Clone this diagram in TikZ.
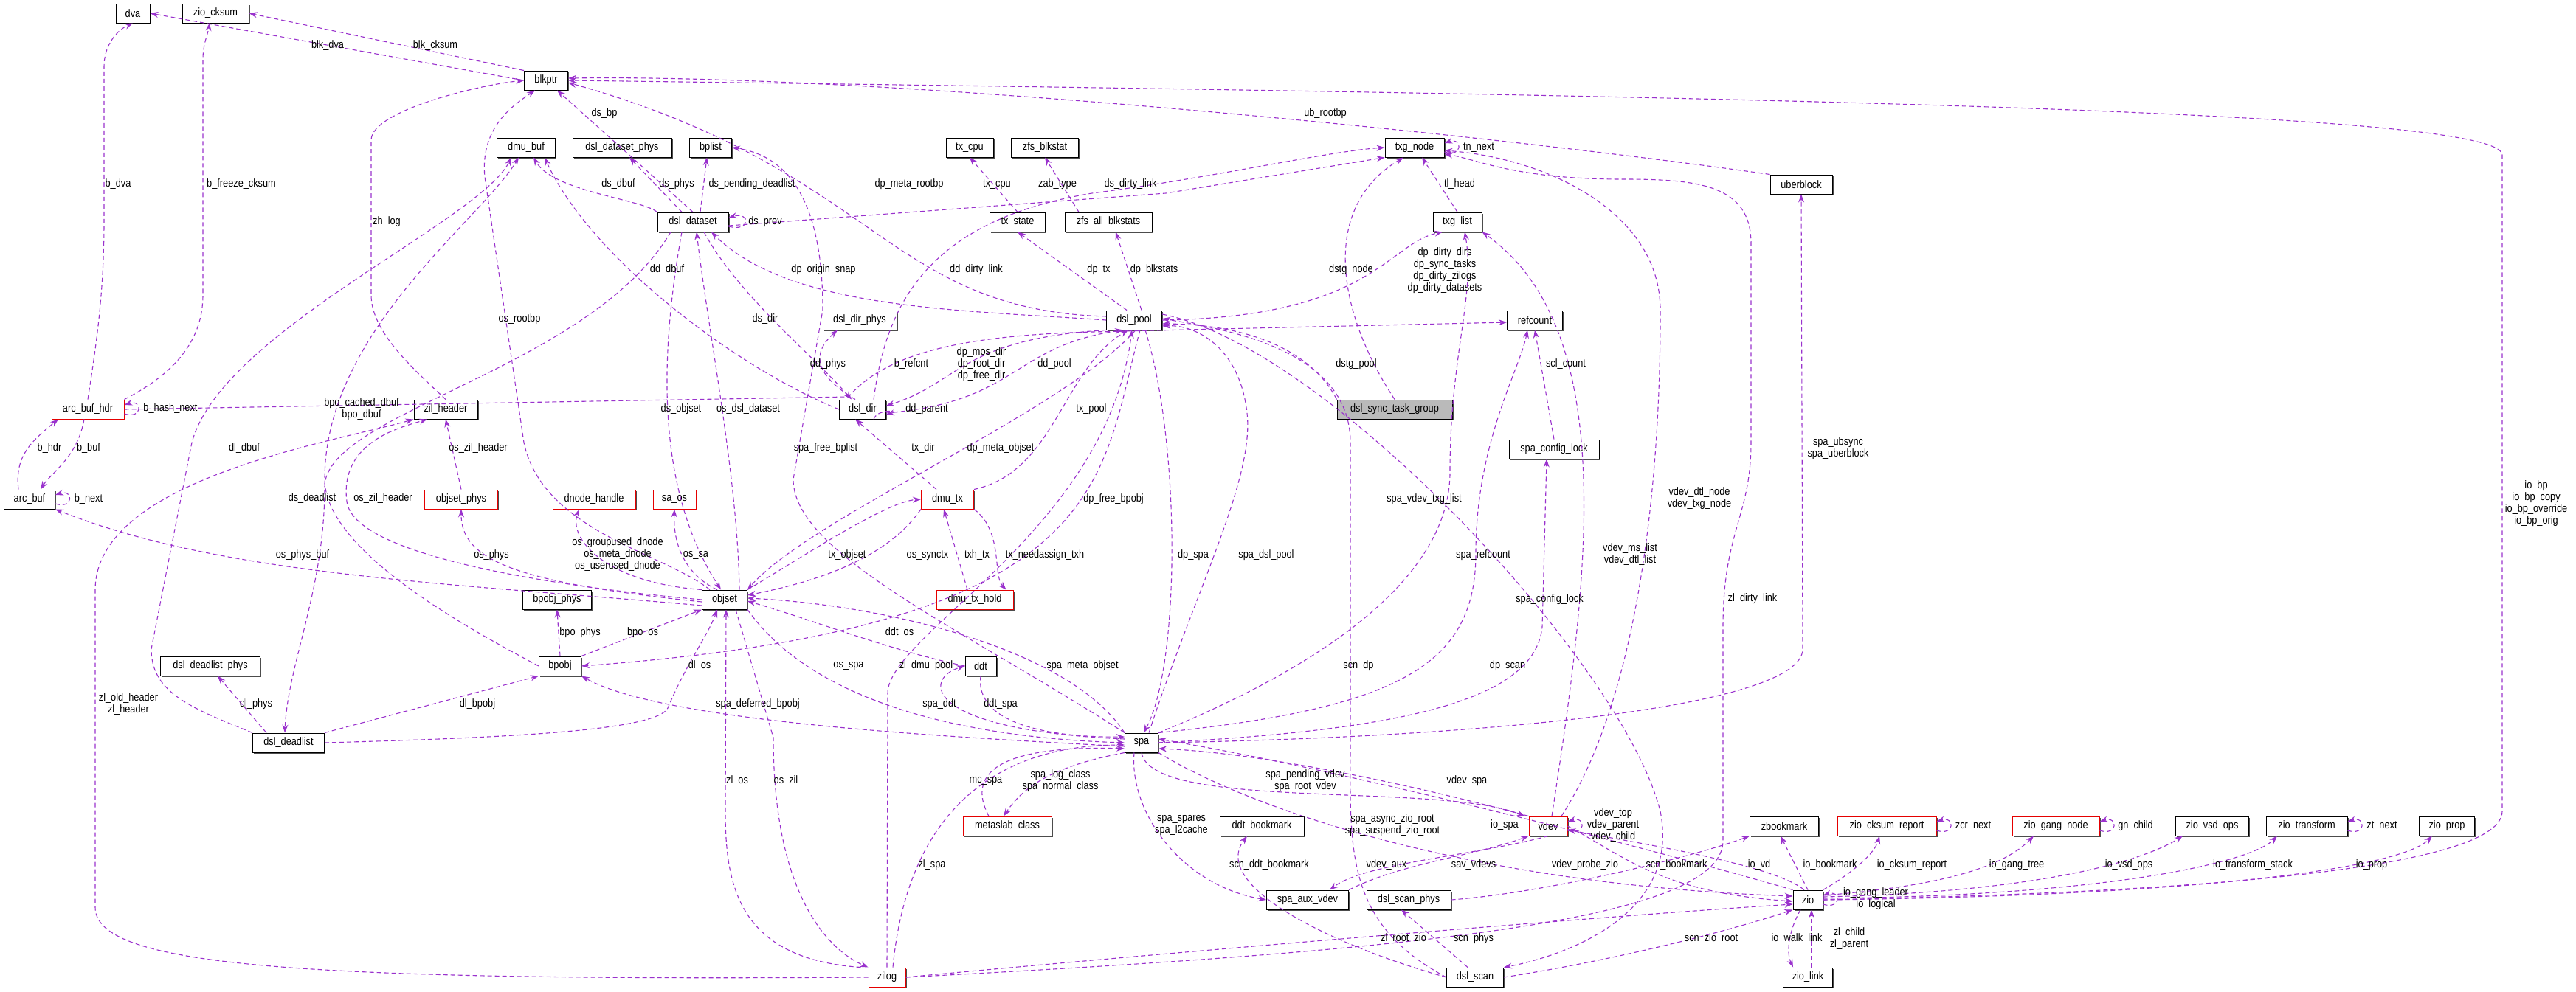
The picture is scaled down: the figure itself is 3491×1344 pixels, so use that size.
\documentclass[tikz,border=0pt]{standalone}
\usepackage{fontspec}
\setmainfont{Liberation Sans}[FakeStretch=0.85]
\usetikzlibrary{arrows.meta,shadows}
\definecolor{ec}{HTML}{9A32CD}
\newcommand\nf{\fontsize{15}{16}\selectfont}
\newcommand\lbl[3]{\node[lab] (#1) at (#2) {#3};}
\begin{document}
\begin{tikzpicture}[x=1pt,y=-1pt,
  box/.style={draw, fill=white, minimum height=26, inner xsep=2pt, inner ysep=0pt, font=\nf, line width=1pt,
    drop shadow={shadow xshift=1.5pt,shadow yshift=-1.5pt,fill=black!70,opacity=1}},
  red/.style={box, draw=red!90!black},
  lab/.style={font=\nf, align=center, inner sep=0pt},
  e/.style={draw=ec, line width=1.1pt, dash pattern=on 6pt off 4pt, -{Stealth[length=11pt,width=8pt,fill=ec]}},
  ]
\useasboundingbox (0,0) rectangle (3491,1344);
% nodes
\node[box,minimum width=46] (dva) at (180,18) {dva};
\node[box,minimum width=90] (zio_cksum) at (292,18) {zio\_cksum};
\node[box,minimum width=59] (blkptr) at (740,109) {blkptr};
\node[box,minimum width=79] (dmu_buf) at (713,200) {dmu\_buf};
\node[box,minimum width=134] (dsl_dataset_phys) at (843,200) {dsl\_dataset\_phys};
\node[box,minimum width=57] (bplist) at (963,200) {bplist};
\node[box,minimum width=64] (tx_cpu) at (1314,200) {tx\_cpu};
\node[box,minimum width=91] (zfs_blkstat) at (1416,200) {zfs\_blkstat};
\node[box,minimum width=80] (txg_node) at (1917,200) {txg\_node};
\node[box,minimum width=84] (uberblock) at (2441,250) {uberblock};
\node[box,minimum width=96] (dsl_dataset) at (939,301) {dsl\_dataset};
\node[box,minimum width=75] (tx_state) at (1379,301) {tx\_state};
\node[box,minimum width=118] (zfs_all_blkstats) at (1502,301) {zfs\_all\_blkstats};
\node[box,minimum width=66] (txg_list) at (1975,301) {txg\_list};
\node[box,minimum width=100] (dsl_dir_phys) at (1165,434) {dsl\_dir\_phys};
\node[box,minimum width=75] (dsl_pool) at (1537,434) {dsl\_pool};
\node[box,minimum width=75] (refcount) at (2080,434) {refcount};
\node[red,minimum width=98] (arc_buf_hdr) at (119,555) {arc\_buf\_hdr};
\node[box,minimum width=86] (zil_header) at (604,555) {zil\_header};
\node[box,minimum width=63] (dsl_dir) at (1169,555) {dsl\_dir};
\node[box,minimum width=156,fill=black!27] (dstg) at (1890,555) {dsl\_sync\_task\_group};
\node[box,minimum width=122] (spa_config_lock) at (2106,609) {spa\_config\_lock};
\node[box,minimum width=69] (arc_buf) at (40,677) {arc\_buf};
\node[red,minimum width=99] (objset_phys) at (625,677) {objset\_phys};
\node[red,minimum width=112] (dnode_handle) at (805,677) {dnode\_handle};
\node[red,minimum width=58] (sa_os) at (914,677) {sa\_os};
\node[red,minimum width=71] (dmu_tx) at (1284,677) {dmu\_tx};
\node[box,minimum width=93] (bpobj_phys) at (755,813) {bpobj\_phys};
\node[box,minimum width=61] (objset) at (982,813) {objset};
\node[red,minimum width=104] (dmu_tx_hold) at (1321,813) {dmu\_tx\_hold};
\node[box,minimum width=135] (dsl_deadlist_phys) at (285,903) {dsl\_deadlist\_phys};
\node[box,minimum width=57] (bpobj) at (759,903) {bpobj};
\node[box,minimum width=42] (ddt) at (1329,903) {ddt};
\node[box,minimum width=97] (dsl_deadlist) at (391,1007) {dsl\_deadlist};
\node[box,minimum width=45] (spa) at (1547,1007) {spa};
\node[red,minimum width=120] (metaslab_class) at (1365,1120) {metaslab\_class};
\node[box,minimum width=114] (ddt_bookmark) at (1710,1120) {ddt\_bookmark};
\node[red,minimum width=52] (vdev) at (2098,1120) {vdev};
\node[box,minimum width=93] (zbookmark) at (2418,1120) {zbookmark};
\node[red,minimum width=134] (zio_cksum_report) at (2557,1120) {zio\_cksum\_report};
\node[red,minimum width=118] (zio_gang_node) at (2786,1120) {zio\_gang\_node};
\node[box,minimum width=99] (zio_vsd_ops) at (2998,1120) {zio\_vsd\_ops};
\node[box,minimum width=110] (zio_transform) at (3126,1120) {zio\_transform};
\node[box,minimum width=75] (zio_prop) at (3316,1120) {zio\_prop};
\node[box,minimum width=111] (spa_aux_vdev) at (1772,1220) {spa\_aux\_vdev};
\node[box,minimum width=114] (dsl_scan_phys) at (1909,1220) {dsl\_scan\_phys};
\node[box,minimum width=40] (zio) at (2450,1220) {zio};
\node[red,minimum width=50] (zilog) at (1202,1325) {zilog};
\node[box,minimum width=77] (dsl_scan) at (1999,1325) {dsl\_scan};
\node[box,minimum width=67] (zio_link) at (2450,1325) {zio\_link};

% edges
\path[e] (blkptr.west) -- (dva.east);
\path[e] (blkptr.north west) -- (zio_cksum.east);
\path[e] (arc_buf_hdr.north) .. controls (130,470) and (141,400) .. (141,300) -- (141,90) .. controls (141,60) and (160,40) .. (dva.south);
\path[e] (arc_buf_hdr.north east) .. controls (250,500) and (275,450) .. (275,400) -- (275,80) .. controls (275,60) and (282,45) .. (284,31);
\path[e] (dsl_dataset.north) -- ([xshift=15]blkptr.south);
\path[e] (dsl_dataset.north west) .. controls (870,270) and (750,260) .. ([xshift=10]dmu_buf.south);
\path[e] ([xshift=-15]dsl_dataset.north) -- ([xshift=10]dsl_dataset_phys.south);
\path[e] ([xshift=10]dsl_dataset.north) -- ([xshift=-5]bplist.south);
\path[e] ([yshift=-6]dsl_dataset.east) .. controls +(30,8) and +(30,-8) .. ([yshift=6]dsl_dataset.east);
\path[e] (zil_header.north) .. controls (560,500) and (503,450) .. (503,400) -- (503,190) .. controls (503,150) and (650,115) .. (blkptr.west);
\path[e] ([yshift=-6]arc_buf_hdr.east) .. controls +(25,8) and +(25,-8) .. ([yshift=6]arc_buf_hdr.east);
\path[e] ([xshift=-15]arc_buf.north) .. controls (20,620) and (40,600) .. ([xshift=-40]arc_buf_hdr.south);
\path[e] ([xshift=-5]arc_buf_hdr.south) .. controls (105,620) and (70,640) .. ([xshift=15]arc_buf.north);
\path[e] ([yshift=-6]arc_buf.east) .. controls +(25,8) and +(25,-8) .. ([yshift=6]arc_buf.east);
\path[e] (dsl_deadlist.north west) .. controls (260,960) and (205,940) .. (205,880) -- (260,600) .. controls (300,450) and (650,300) .. ([xshift=-20]dmu_buf.south);
\path[e] (bpobj.west) .. controls (650,860) and (440,750) .. (440,650) .. controls (440,450) and (650,300) .. ([xshift=-10]dmu_buf.south);
\path[e] (objset_phys.north) -- ([xshift=0]zil_header.south);
\path[e] (objset.west) .. controls (800,800) and (480,760) .. (470,680) .. controls (460,600) and (540,580) .. ([xshift=-25]zil_header.south);
\path[e] ([xshift=-20]objset.north) .. controls (900,750) and (735,720) .. (710,600) -- (657,240) .. controls (650,170) and (700,140) .. ([xshift=-15]blkptr.south);
\path[e] (dsl_dir.west) .. controls (1000,500) and (800,350) .. ([xshift=25]dmu_buf.south);
\path[e] (dsl_pool.west) .. controls (1300,420) and (1070,420) .. ([xshift=25]dsl_dataset.south);
\path[e] ([xshift=15]dsl_dataset.south) .. controls (1000,400) and (1100,480) .. ([xshift=-15]dsl_dir.north);
\path[e] ([xshift=-10]dsl_dir.north) .. controls (1090,500) and (1110,470) .. ([xshift=-30]dsl_dir_phys.south);
\path[e] ([xshift=-15]dsl_dataset.south) .. controls (900,450) and (880,650) .. ([xshift=-5]objset.north);
\path[e] ([xshift=20]objset.north) .. controls (1000,650) and (960,450) .. ([xshift=5]dsl_dataset.south);
\path[e] (spa.north west) .. controls (1300,850) and (1075,750) .. (1075,650) -- (1115,420) .. controls (1115,260) and (1060,210) .. (bplist.east);
\path[e] ([xshift=-30]dsl_dataset.south) .. controls (800,500) and (440,560) .. (440,660) .. controls (440,800) and (390,900) .. ([xshift=-5]dsl_deadlist.north);
\path[e] ([yshift=-5]dsl_dataset.east) -- (1580,262) -- (txg_node.south west);
\path[e] ([yshift=5]dsl_pool.west) .. controls (1200,420) and (1190,230) .. ([yshift=-3]blkptr.east);
\path[e] (tx_state.north) -- (tx_cpu.south);
\path[e] ([xshift=-40]zfs_all_blkstats.north) -- (zfs_blkstat.south);
\path[e] (txg_list.north) -- ([xshift=10]txg_node.south);
\path[e] ([yshift=-6]txg_node.east) .. controls +(25,8) and +(25,-8) .. ([yshift=6]txg_node.east);
\path[e] (uberblock.north west) .. controls (2000,180) and (1200,100) .. ([yshift=3]blkptr.east);
\path[e] ([xshift=15]dsl_dir.north) .. controls (1200,420) and (1250,300) .. (1480,262) .. controls (1650,240) and (1800,205) .. (txg_node.west);
\path[e] ([xshift=-10]dsl_pool.north) -- (tx_state.south);
\path[e] ([xshift=10]dsl_pool.north) -- ([xshift=10]zfs_all_blkstats.south);
\path[e] (dstg.north) .. controls (1810,420) and (1790,280) .. ([xshift=-15]txg_node.south);
\path[e] (dsl_pool.east) .. controls (1860,430) and (1880,330) .. ([xshift=-20]txg_list.south);
\path[e] (arc_buf_hdr.east) -- (1150,538) .. controls (1200,480) and (1300,455) .. (1480,450) -- ([yshift=-3]refcount.west);
\path[e] (dsl_pool.south west) .. controls (1300,460) and (1300,520) .. ([yshift=5]dsl_dir.east);
\path[e] ([yshift=-5]dsl_dir.east) .. controls (1380,545) and (1370,470) .. ([xshift=-15]dsl_pool.south);
\path[e] ([xshift=15]dsl_dir.south) .. controls +(5,-15) and +(20,-5) .. ([yshift=-7]dsl_dir.east);
\path[e] (dstg.north west) .. controls (1780,480) and (1700,440) .. ([yshift=-5]dsl_pool.east);
\path[e] (spa_config_lock.north) -- (refcount.south);
\path[e] (dmu_tx.north east) .. controls (1430,640) and (1440,500) .. ([xshift=-8]dsl_pool.south);
\path[e] ([xshift=-15]dmu_tx.north) -- ([xshift=-10]dsl_dir.south);
\path[e] ([xshift=2]dsl_pool.south) .. controls (1440,560) and (1100,700) .. (objset.north east);
\path[e] (spa.north east) .. controls (1800,900) and (1965,780) .. (1965,640) .. controls (1965,480) and (2000,400) .. ([xshift=10]txg_list.south);
\path[e] ([xshift=8]dsl_pool.south) .. controls (1490,650) and (1510,850) .. (bpobj.east);
\path[e] ([xshift=5]vdev.north) .. controls (2150,800) and (2200,450) .. (txg_list.south east);
\path[e] ([xshift=18]vdev.north) .. controls (2250,900) and (2250,500) .. (2250,420) .. controls (2250,290) and (2100,215) .. ([yshift=-4]txg_node.east);
\path[e] (zilog.east) .. controls (1900,1290) and (2335,1250) .. (2335,1140) -- (2335,850) .. controls (2335,720) and (2373,700) .. (2373,600) -- (2373,330) .. controls (2373,250) and (2300,243) .. (2200,243) .. controls (2050,243) and (2000,215) .. ([yshift=-9]txg_node.east);
\path[e] (spa.east) .. controls (2000,1000) and (2443,960) .. (2443,880) -- (uberblock.south);
\path[e] (zio.east) .. controls (2700,1215) and (3391,1200) .. (3391,1100) -- (3391,210) .. controls (3391,150) and (2400,130) .. (blkptr.east);
\path[e] (spa.north east) .. controls (1900,960) and (2000,900) .. (2000,750) .. controls (2000,600) and (2060,500) .. ([xshift=-10]refcount.south);
\path[e] (spa.east) .. controls (1900,990) and (2080,950) .. (2090,850) -- ([xshift=-10]spa_config_lock.south);
\path[e] ([xshift=10]spa.north) .. controls (1620,800) and (1700,650) .. (1690,560) .. controls (1680,470) and (1620,440) .. ([yshift=-8]dsl_pool.east);
\path[e] ([xshift=15]dsl_pool.south) .. controls (1600,600) and (1600,900) .. ([xshift=3]spa.north);
\path[e] (dmu_tx.south west) .. controls (1200,760) and (1100,790) .. ([yshift=6]objset.east);
\path[e] (objset.north east) .. controls (1080,760) and (1200,680) .. (dmu_tx.west);
\path[e] ([xshift=-10]dmu_tx_hold.north) -- ([xshift=-5]dmu_tx.south);
\path[e] (dmu_tx.south east) .. controls (1360,720) and (1345,780) .. ([xshift=-10]dmu_tx_hold.north east);
\path[e] ([yshift=-8]objset.west) .. controls (600,790) and (300,780) .. (arc_buf.south east);
\path[e] ([yshift=-3]objset.west) .. controls (700,790) and (625,760) .. (objset_phys.south);
\path[e] (objset.north west) .. controls (820,790) and (770,730) .. ([xshift=-20]dnode_handle.south);
\path[e] ([xshift=-10]objset.north) .. controls (930,780) and (912,740) .. (sa_os.south);
\path[e] (bpobj.north) -- (bpobj_phys.south);
\path[e] (bpobj.north east) -- (objset.south west);
\path[e] ([xshift=-30]dsl_deadlist.north) -- ([xshift=10]dsl_deadlist_phys.south);
\path[e] (dsl_deadlist.north east) -- (bpobj.south west);
\path[e] (dsl_deadlist.east) .. controls (700,1000) and (890,990) .. (905,960) .. controls (930,900) and (960,860) .. ([xshift=-10]objset.south);
\path[e] ([yshift=-5]spa.west) .. controls (1300,1000) and (900,980) .. (bpobj.south east);
\path[e] (zilog.west) .. controls (400,1330) and (129,1310) .. (129,1230) -- (129,800) .. controls (129,650) and (450,600) .. (zil_header.south west);
\path[e] ([xshift=-10]zilog.north west) .. controls (1000,1300) and (983,1200) .. (983,1100) -- ([xshift=2]objset.south);
\path[e] ([xshift=15]objset.south) -- (1048,1000) .. controls (1048,1250) and (1150,1300) .. (zilog.north west);
\path[e] (objset.south east) .. controls (1100,950) and (1300,1000) .. (spa.west);
\path[e] (ddt.west) .. controls (1200,880) and (1100,840) .. ([yshift=-2]objset.east);
\path[e] (zilog.north) -- (1203,940) .. controls (1203,860) and (1500,720) .. ([xshift=-3]dsl_pool.south);
\path[e] (spa.north west) .. controls (1450,880) and (1200,820) .. ([yshift=2]objset.east);
\path[e] ([yshift=5]spa.west) .. controls (1250,990) and (1250,920) .. (ddt.west);
\path[e] (ddt.south) .. controls (1320,990) and (1450,1000) .. ([yshift=8]spa.west);
\path[e] (dsl_scan.west) .. controls (1820,1250) and (1830,1150) .. (1830,1000) -- (1830,600) .. controls (1830,470) and (1650,445) .. ([yshift=2]dsl_pool.east);
\path[e] ([yshift=8]dsl_pool.east) .. controls (1800,470) and (2200,900) .. (2250,1100) .. controls (2280,1250) and (2100,1300) .. (dsl_scan.north east);
\path[e] ([xshift=-25]metaslab_class.north) .. controls (1310,1050) and (1350,1010) .. ([yshift=-8]spa.west);
\path[e] (spa.south west) .. controls (1420,1040) and (1385,1070) .. ([xshift=-5]metaslab_class.north);
\path[e] (spa.south) .. controls (1560,1100) and (1950,1060) .. ([xshift=-5]vdev.north west);
\path[e] (vdev.north west) .. controls (1900,1060) and (1700,1020) .. ([yshift=-8]spa.east);
\path[e] ([xshift=-10]spa.south) .. controls (1530,1100) and (1600,1200) .. (spa_aux_vdev.west);
\path[e] (spa.south east) .. controls (1700,1100) and (2000,1200) .. ([yshift=5]zio.west);
\path[e] (zio.north west) .. controls (2200,1140) and (1800,1040) .. ([yshift=5]spa.east);
\path[e] ([yshift=-6]vdev.east) .. controls +(25,8) and +(25,-8) .. ([yshift=6]vdev.east);
\path[e] ([xshift=8]zilog.north) .. controls (1230,1100) and (1350,1010) .. ([yshift=-3]spa.west);
\path[e] (dsl_scan.west) .. controls (1800,1280) and (1640,1200) .. ([xshift=-20]ddt_bookmark.south);
\path[e] (spa_aux_vdev.north east) .. controls (1900,1170) and (2000,1160) .. (vdev.south west);
\path[e] (vdev.south) .. controls (2000,1160) and (1850,1170) .. ([xshift=30]spa_aux_vdev.north);
\path[e] (vdev.east) .. controls (2200,1160) and (2250,1210) .. ([yshift=-2]zio.west);
\path[e] (dsl_scan_phys.east) .. controls (2100,1210) and (2300,1160) .. (zbookmark.south west);
\path[e] ([xshift=-5]zio.north) .. controls (2400,1170) and (2200,1140) .. ([yshift=-5]vdev.east);
\path[e] (zio.north) -- ([xshift=-5]zbookmark.south);
\path[e] (zio.north east) .. controls (2500,1190) and (2540,1160) .. ([xshift=-10]zio_cksum_report.south);
\path[e] ([yshift=-6]zio_cksum_report.east) .. controls +(25,8) and +(25,-8) .. ([yshift=6]zio_cksum_report.east);
\path[e] ([yshift=6]zio.east) .. controls (2650,1200) and (2720,1170) .. ([xshift=-30]zio_gang_node.south);
\path[e] ([yshift=-6]zio_gang_node.east) .. controls +(25,8) and +(25,-8) .. ([yshift=6]zio_gang_node.east);
\path[e] ([yshift=4]zio.east) .. controls (2750,1210) and (2900,1170) .. ([xshift=-40]zio_vsd_ops.south);
\path[e] ([yshift=2]zio.east) .. controls (2850,1215) and (3050,1170) .. ([xshift=-40]zio_transform.south);
\path[e] ([yshift=-6]zio_transform.east) .. controls +(25,8) and +(25,-8) .. ([yshift=6]zio_transform.east);
\path[e] (zio.east) .. controls (2950,1215) and (3250,1180) .. ([xshift=-20]zio_prop.south);
\path[e] ([yshift=-6]zio.east) .. controls +(25,8) and +(25,-8) .. ([yshift=6]zio.east);
\path[e] (zilog.east) .. controls (1600,1290) and (2200,1240) .. ([yshift=-6]zio.west);
\path[e] ([xshift=-10]dsl_scan.north) -- ([xshift=-10]dsl_scan_phys.south);
\path[e] (dsl_scan.east) .. controls (2200,1300) and (2350,1260) .. (zio.south west);
\path[e] ([xshift=-10]zio.south) .. controls (2425,1260) and (2420,1290) .. ([xshift=-20]zio_link.north);
\path[e] ([xshift=5]zio_link.north) -- ([xshift=5]zio.south);

% labels
\lbl{l1}{444,62}{blk\_dva}
\lbl{l2}{590,62}{blk\_cksum}
\lbl{l3}{160,250}{b\_dva}
\lbl{l4}{327,250}{b\_freeze\_cksum}
\lbl{l5}{819,154}{ds\_bp}
\lbl{l6}{838,250}{ds\_dbuf}
\lbl{l7}{917,250}{ds\_phys}
\lbl{l8}{1019,250}{ds\_pending\_deadlist}
\lbl{l9}{1037,301}{ds\_prev}
\lbl{l10}{524,301}{zh\_log}
\lbl{l11}{231,554}{b\_hash\_next}
\lbl{l12}{67,608}{b\_hdr}
\lbl{l13}{120,608}{b\_buf}
\lbl{l14}{120,677}{b\_next}
\lbl{l15}{331,608}{dl\_dbuf}
\lbl{l16}{490,555}{bpo\_cached\_dbuf\\bpo\_dbuf}
\lbl{l17}{648,608}{os\_zil\_header}
\lbl{l17b}{519,676}{os\_zil\_header}
\lbl{l18}{704,433}{os\_rootbp}
\lbl{l19}{904,366}{dd\_dbuf}
\lbl{l20}{1116,366}{dp\_origin\_snap}
\lbl{l21}{1037,433}{ds\_dir}
\lbl{l22}{1122,494}{dd\_phys}
\lbl{l23}{1014,555}{os\_dsl\_dataset}
\lbl{l23b}{923,555}{ds\_objset}
\lbl{l24}{1119,608}{spa\_free\_bplist}
\lbl{l25}{423,676}{ds\_deadlist}
\lbl{l26}{1532,250}{ds\_dirty\_link}
\lbl{l27}{1232,250}{dp\_meta\_rootbp}
\lbl{l28}{1351,250}{tx\_cpu}
\lbl{l29}{1433,250}{zab\_type}
\lbl{l30}{1978,250}{tl\_head}
\lbl{l31}{2004,200}{tn\_next}
\lbl{l32}{1796,154}{ub\_rootbp}
\lbl{l33}{1323,366}{dd\_dirty\_link}
\lbl{l34}{1489,366}{dp\_tx}
\lbl{l35}{1564,366}{dp\_blkstats}
\lbl{l36}{1831,366}{dstg\_node}
\lbl{l37}{1958,367}{dp\_dirty\_dirs\\dp\_sync\_tasks\\dp\_dirty\_zilogs\\dp\_dirty\_datasets}
\lbl{l38}{1235,494}{b\_refcnt}
\lbl{l39}{1330,494}{dp\_mos\_dir\\dp\_root\_dir\\dp\_free\_dir}
\lbl{l40}{1429,494}{dd\_pool}
\lbl{l41}{1256,555}{dd\_parent}
\lbl{l42}{1838,494}{dstg\_pool}
\lbl{l43}{2122,494}{scl\_count}
\lbl{l44}{1479,555}{tx\_pool}
\lbl{l45}{1251,608}{tx\_dir}
\lbl{l46}{1356,608}{dp\_meta\_objset}
\lbl{l47}{1930,677}{spa\_vdev\_txg\_list}
\lbl{l48}{1509,677}{dp\_free\_bpobj}
\lbl{l49}{2209,752}{vdev\_ms\_list\\vdev\_dtl\_list}
\lbl{l50}{2303,676}{vdev\_dtl\_node\\vdev\_txg\_node}
\lbl{l51}{2375,812}{zl\_dirty\_link}
\lbl{l52}{2491,608}{spa\_ubsync\\spa\_uberblock}
\lbl{l53}{3437,683}{io\_bp\\io\_bp\_copy\\io\_bp\_override\\io\_bp\_orig}
\lbl{l54}{2010,753}{spa\_refcount}
\lbl{l55}{2100,813}{spa\_config\_lock}
\lbl{l56}{1716,753}{spa\_dsl\_pool}
\lbl{l57}{1617,753}{dp\_spa}
\lbl{l58}{1148,753}{tx\_objset}
\lbl{l59}{1257,753}{os\_synctx}
\lbl{l60}{1324,753}{txh\_tx}
\lbl{l61}{1416,753}{tx\_needassign\_txh}
\lbl{l62}{410,753}{os\_phys\_buf}
\lbl{l63}{666,753}{os\_phys}
\lbl{l64}{837,752}{os\_groupused\_dnode\\os\_meta\_dnode\\os\_userused\_dnode}
\lbl{l65}{943,753}{os\_sa}
\lbl{l66}{786,858}{bpo\_phys}
\lbl{l67}{871,858}{bpo\_os}
\lbl{l68}{347,955}{dl\_phys}
\lbl{l69}{647,955}{dl\_bpobj}
\lbl{l70}{948,903}{dl\_os}
\lbl{l71}{1027,955}{spa\_deferred\_bpobj}
\lbl{l72}{174,955}{zl\_old\_header\\zl\_header}
\lbl{l73}{999,1059}{zl\_os}
\lbl{l74}{1065,1059}{os\_zil}
\lbl{l75}{1150,903}{os\_spa}
\lbl{l76}{1219,858}{ddt\_os}
\lbl{l77}{1255,903}{zl\_dmu\_pool}
\lbl{l78}{1467,903}{spa\_meta\_objset}
\lbl{l79}{1273,955}{spa\_ddt}
\lbl{l80}{1356,955}{ddt\_spa}
\lbl{l81}{1841,903}{scn\_dp}
\lbl{l82}{2043,903}{dp\_scan}
\lbl{l83}{1336,1059}{mc\_spa}
\lbl{l84}{1437,1059}{spa\_log\_class\\spa\_normal\_class}
\lbl{l85}{1769,1059}{spa\_pending\_vdev\\spa\_root\_vdev}
\lbl{l86}{1988,1059}{vdev\_spa}
\lbl{l87}{1601,1119}{spa\_spares\\spa\_l2cache}
\lbl{l88}{1887,1119}{spa\_async\_zio\_root\\spa\_suspend\_zio\_root}
\lbl{l89}{2039,1119}{io\_spa}
\lbl{l90}{2186,1119}{vdev\_top\\vdev\_parent\\vdev\_child}
\lbl{l91}{1263,1173}{zl\_spa}
\lbl{l92}{1720,1173}{scn\_ddt\_bookmark}
\lbl{l93}{1997,1173}{sav\_vdevs}
\lbl{l94}{1879,1173}{vdev\_aux}
\lbl{l95}{2148,1173}{vdev\_probe\_zio}
\lbl{l96}{2272,1173}{scn\_bookmark}
\lbl{l97}{2384,1173}{io\_vd}
\lbl{l98}{2480,1173}{io\_bookmark}
\lbl{l99}{2591,1173}{io\_cksum\_report}
\lbl{l100}{2674,1120}{zcr\_next}
\lbl{l101}{2733,1173}{io\_gang\_tree}
\lbl{l102}{2894,1120}{gn\_child}
\lbl{l103}{2885,1173}{io\_vsd\_ops}
\lbl{l104}{3053,1173}{io\_transform\_stack}
\lbl{l105}{3228,1120}{zt\_next}
\lbl{l106}{3214,1173}{io\_prop}
\lbl{l107}{2542,1219}{io\_gang\_leader\\io\_logical}
\lbl{l108}{1902,1273}{zl\_root\_zio}
\lbl{l109}{1997,1273}{scn\_phys}
\lbl{l110}{2319,1273}{scn\_zio\_root}
\lbl{l111}{2435,1273}{io\_walk\_link}
\lbl{l112}{2506,1273}{zl\_child\\zl\_parent}
\end{tikzpicture}
\end{document}
